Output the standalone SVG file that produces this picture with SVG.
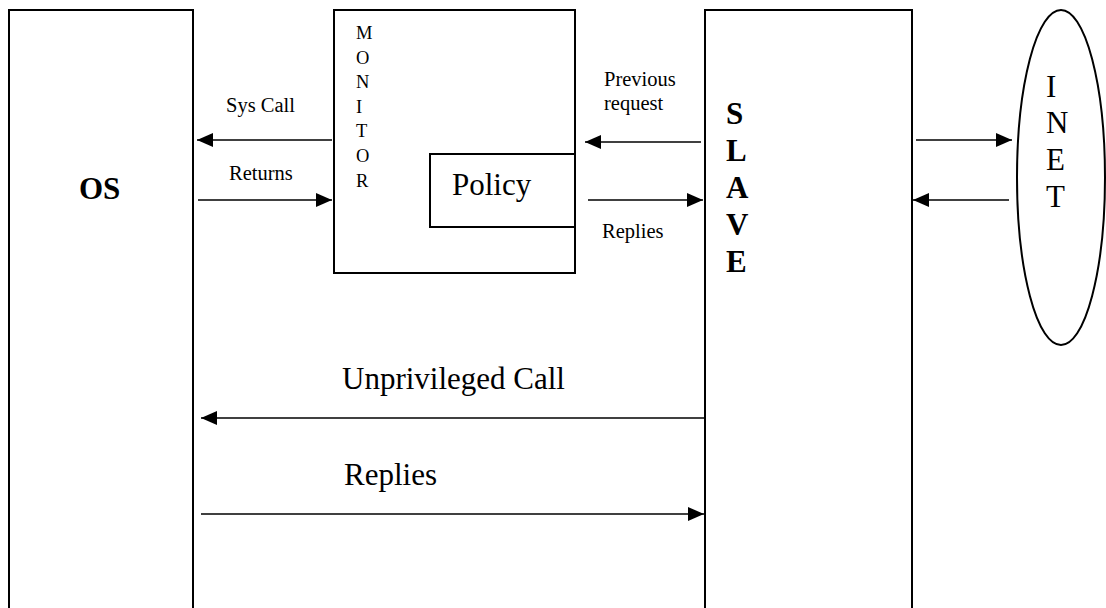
<svg xmlns="http://www.w3.org/2000/svg" width="1106" height="608" viewBox="0 0 1106 608">
<style>
.box{fill:#fff;stroke:#000;stroke-width:2}
.ln{fill:none;stroke:#000;stroke-width:1.6;marker-end:url(#ah)}
text{font-family:"Liberation Serif","Times New Roman",serif;fill:#000}
.sm{font-size:20.5px}
.mon{font-size:18.5px}
.big{font-size:31px}
.bold{font-size:31px;font-weight:bold}
</style>
<defs>
<marker id="ah" markerUnits="userSpaceOnUse" viewBox="0 0 16 14" refX="16" refY="7" markerWidth="16" markerHeight="14" orient="auto">
<path d="M0,0 L16,7 L0,14 z" fill="#000"/>
</marker>
</defs>
<rect width="1106" height="608" fill="#fff"/>
<g id="os">
<rect class="box" x="9" y="10" width="184" height="620"/>
<text class="bold" x="79" y="199">OS</text>
</g>
<g id="monitor">
<rect class="box" x="334" y="10" width="241" height="263"/>
<g class="mon">
<text x="356" y="39">M</text>
<text x="356" y="63.6">O</text>
<text x="356" y="88.2">N</text>
<text x="356" y="112.8">I</text>
<text x="356" y="137.4">T</text>
<text x="356" y="162">O</text>
<text x="356" y="186.6">R</text>
</g>
</g>
<g id="policy">
<rect class="box" x="430" y="154" width="145" height="73"/>
<text class="big" x="452" y="195">Policy</text>
</g>
<g id="slave">
<rect class="box" x="705" y="10" width="207" height="620"/>
<g class="bold">
<text x="726" y="124">S</text>
<text x="726" y="161">L</text>
<text x="726" y="198">A</text>
<text x="726" y="235">V</text>
<text x="726" y="272">E</text>
</g>
</g>
<g id="inet">
<ellipse cx="1061" cy="177.5" rx="44" ry="167.5" fill="#fff" stroke="#000" stroke-width="2"/>
<g class="big">
<text x="1046" y="97">I</text>
<text x="1046" y="133">N</text>
<text x="1046" y="170">E</text>
<text x="1046" y="207">T</text>
</g>
</g>
<g id="connectors">
<line class="ln" x1="332" y1="140" x2="197" y2="140"/>
<line class="ln" x1="198" y1="200" x2="332" y2="200"/>
<line class="ln" x1="701" y1="142" x2="585" y2="142"/>
<line class="ln" x1="588" y1="200" x2="703" y2="200"/>
<line class="ln" x1="916" y1="140" x2="1012" y2="140"/>
<line class="ln" x1="1009" y1="200" x2="913" y2="200"/>
<line class="ln" x1="705" y1="418" x2="201" y2="418"/>
<line class="ln" x1="201" y1="514" x2="704" y2="514"/>
</g>
<g id="labels">
<text class="sm" x="226" y="112">Sys Call</text>
<text class="sm" x="229" y="180">Returns</text>
<text class="sm" x="604" y="86">Previous</text>
<text class="sm" x="604" y="110">request</text>
<text class="sm" x="602" y="238">Replies</text>
<text class="big" x="342" y="389">Unprivileged Call</text>
<text class="big" x="344" y="485">Replies</text>
</g>
</svg>
